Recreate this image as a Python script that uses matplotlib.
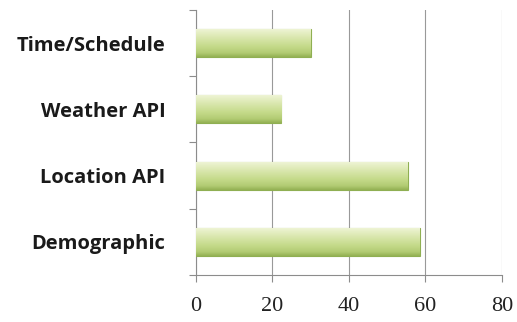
import matplotlib
matplotlib.use("Agg")
import matplotlib.pyplot as plt
import numpy as np
from matplotlib.colors import LinearSegmentedColormap

categories = ["Demographic", "Location API", "Weather API", "Time/Schedule"]
values = [58.5, 55.3, 22.3, 30.0]
xticks = [0, 20, 40, 60, 80]

fig = plt.figure(figsize=(5.17, 3.22), dpi=100)
ax = fig.add_axes([0.379, 0.146, 0.592, 0.823])

y = np.arange(len(categories))
bars = ax.barh(y, values, height=0.42, color="#c5da8c", edgecolor="#8faf52",
               linewidth=0.8, zorder=3)

cmap = LinearSegmentedColormap.from_list(
    "g", [(0.0, "#eef4d4"), (0.25, "#dde9b4"), (0.6, "#c6db8c"),
          (0.85, "#b3cc74"), (1.0, "#94b254")])
grad = np.linspace(0, 1, 64).reshape(-1, 1)
for b in bars:
    x0, y0 = b.get_x(), b.get_y()
    w, h = b.get_width(), b.get_height()
    im = ax.imshow(grad, cmap=cmap, aspect="auto",
                   extent=[x0, x0 + w, y0, y0 + h], origin="upper",
                   zorder=3.5)
    im.set_clip_path(b)

ax.set_xlim(0, 80)
ax.set_ylim(-0.5, len(categories) - 0.5)
ax.set_xticks(xticks)
ax.set_xticklabels([str(t) for t in xticks], family="Liberation Serif",
                   fontsize=16, color="#222222")
ax.set_yticks(y)
ax.set_yticklabels(categories, family="Open Sans", fontweight="bold",
                   fontsize=14.5, color="#1a1a1a")
ax.set_yticks(np.arange(-0.5, len(categories), 1.0), minor=True)
ax.tick_params(axis="y", which="major", length=0, pad=22)
ax.tick_params(axis="y", which="minor", length=5, color="#8c8c8c",
               direction="out", width=0.8)
ax.tick_params(axis="x", which="major", length=5, color="#8c8c8c",
               direction="out", width=0.8, pad=11)

ax.grid(axis="x", color="#999999", linewidth=0.8, zorder=0)
for s in ["top", "right"]:
    ax.spines[s].set_visible(False)
for s in ["left", "bottom"]:
    ax.spines[s].set_color("#8c8c8c")
    ax.spines[s].set_linewidth(0.8)

fig.savefig("out.png", dpi=100)
